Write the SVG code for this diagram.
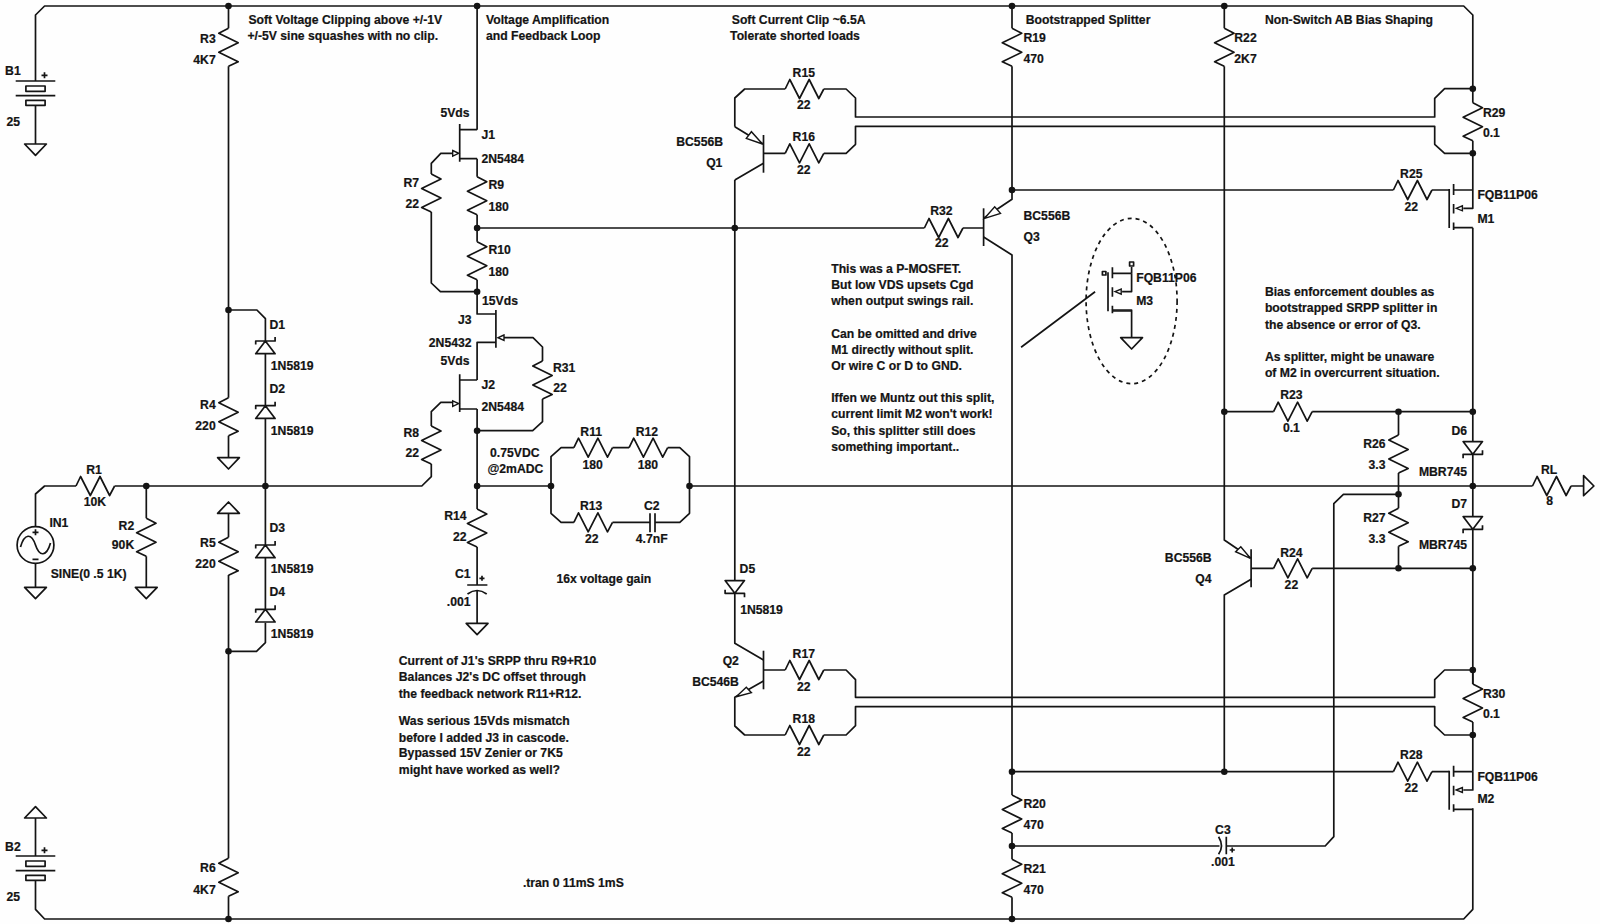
<svg xmlns="http://www.w3.org/2000/svg" width="1600" height="924" viewBox="0 0 1600 924">
<style>
.w{fill:none;stroke:#141414;stroke-width:1.7;stroke-linejoin:round}
.a{fill:#fff;stroke:#141414;stroke-width:1.4}
.d{fill:#141414;stroke:none}
.dash{fill:none;stroke:#141414;stroke-width:1.7;stroke-dasharray:4 4}
text{font-family:"Liberation Sans",Arial,sans-serif;font-size:12.2px;font-weight:bold;fill:#141414;stroke:#141414;stroke-width:.2}
.e{text-anchor:end}
.m{text-anchor:middle}
</style>
<defs>
<path id="rvL" class="w" d="M0 0L-9.7 5 9.7 14.5 -9.7 24 9.7 33.5 0 38"/>
<path id="rvR" class="w" d="M0 0L9.7 5 -9.7 14.5 9.7 24 -9.7 33.5 0 38"/>
<path id="rh" class="w" d="M0 0L4.6 -9.5 14.3 9.5 24 -9.5 33.6 9.5 38.6 0"/>
<path id="dA" class="w" d="M-9.7 -12.7H9.7L0 0ZM-9.7 -3.5V0H9.7V4"/>
<path id="dB" class="w" d="M-9.7 -12.7H9.7L0 0ZM-9.7 4V0H9.7V-4"/>
<path id="dC" class="w" d="M-9.7 12.7H9.7L0 0ZM-9.7 3.5V0H9.7V-4"/>
<path id="gd" class="w" d="M-10.9 0H10.9L0 11.3Z"/>
<path id="gu" class="w" d="M-10.9 0H10.9L0 -11.3Z"/>
<g id="bat"><path class="w" d="M-19.8 0H19.8M-19.8 14.7H19.8"/><rect class="w" x="-9.6" y="5" width="19.2" height="5.3"/><rect class="w" x="-9.6" y="19.3" width="19.2" height="5"/><path class="w" d="M6 -5.7H12M9 -8.7V-2.7"/></g>
<g id="mos"><path class="w" d="M-23.6 -1V38M-19.2 -6V5M-19.2 14V23.5M-19.2 32.5V40M-19.2 0H0M-19.2 37.7H0M-9.5 18.3H0V0"/><path class="a" d="M-16.6 18.3L-10.4 15.8V20.8Z"/></g>
<g id="jf"><path class="w" d="M0 -5.7V32M0 0H17.4M0 29H17.4"/><path class="a" d="M-7 20.8L-1 23.6 -7 26.4Z"/></g>
</defs>
<rect width="1600" height="924" fill="#fefefe"/>
<g id="connectors">
<path class="w" d="M35.5 81V15L44.6 6H1463.7L1472.8 15V102.7M35.5 880.3V909.3L44.6 919H1463.7L1472.8 909.3V808.3"/>
<path class="w" d="M228.5 6V28.3M228.5 66.3V397.7M228.5 435.7V457.7M228.5 310H256.9L265.4 318.7V341M265.4 354V405.7M265.4 419V545M265.4 558V609.3M265.4 622.7V642.7L256.5 651.3H228.5M228.5 513.3V537.3M228.5 575V858.3M228.5 896.3V919"/>
<path class="w" d="M35.5 105.3V144M35.5 818V856M35.5 526.7V494L44.6 486H76M114.6 486H421.8L431.3 476.7V464M431.3 426V411.7L440.8 402.3H452.7M146.3 486V518.3M146.3 556.3V587.3M35.5 563.3V587.3"/>
<path class="w" d="M477.1 6V129.7M477.1 158.7V176.7M477.1 214.7V241.7M477.1 279.7V314H495.9M495.9 342.3H477.1V380M477.1 409V509M477.1 547V585M477.1 591V623.3M477.1 228H924.4M963 228H983.6"/>
<path class="w" d="M477.1 291.7H440.4L431.3 283V212M431.3 174V163.3L440.8 153.3H452.7M504 337.7H533L542.5 347V361M542.5 399V421.7L532.7 430.7H477.1"/>
<path class="w" d="M477.1 486H551V456.7L561.1 447.7H573.9M612.5 447.7H629.1M667.7 447.7H679.8L689.5 456.7V513.3L679.8 522.3H655M650 522.3H612.5M573.9 522.3H561.1L551 513.3V486M689.5 486H1532.5M1571.1 486H1583.6"/>
<path class="w" d="M734.8 126.7V98L744.7 89H785.2M823.8 89H846.1L855.5 98V117H1434.7V98.3L1444.6 88.7H1472.8M763.5 153.3H785.2M823.8 153.3H846.1L855.5 144.3V126.3H1434.7V144.3L1444.6 153.3H1472.8M1472.8 140.7V190M734.8 180V580.7M734.8 593.3V643.3L763.5 660M763.5 670H785.2M823.8 670H846.1L855.5 679.7V697.3H1434.7V679.7L1444.6 670H1472.8V684M1472.8 722V771.7M763.5 681L734.8 697.3V726L744.7 735H785.2M823.8 735H846.1L855.5 725.7V706.7H1434.7V725.7L1444.6 735H1472.8"/>
<path class="w" d="M763.5 144.3L734.8 126.7M763.5 163.3L734.8 180M983.6 218.3L1012 199.3V66.3M1012 28.3V6M983.6 237L1012 255V795M1012 833V859.3M1012 897.3V919M1012 190H1393.4M1432 190H1449.2M1012 771.7H1393.4M1432 771.7H1449.2"/>
<path class="w" d="M1224.3 6V28.3M1224.3 66.3V540L1251.1 558.3M1251.1 579.3L1224.3 595V771.7M1251.1 568.3H1273.6M1312.2 568.3H1472.8M1224.3 411.7H1273.6M1312.2 411.7H1472.8M1398.5 411.7V435M1398.5 473V508.3M1398.5 546.3V568.3M1398.5 494.3H1343.4L1333.8 503.7V836.7L1325.2 846H1226.3M1219.5 846H1012"/>
<path class="w" d="M1472.8 227.7V441.7M1472.8 454.3V516M1472.8 529.3V684M1021.1 347.3L1095.1 291.7M1131.6 273.3V267M1112.4 310H1131.6V337.7"/>
</g>
<g id="junctions">
<circle class="d" cx="228.5" cy="6" r="3.3"/><circle class="d" cx="477.1" cy="6" r="3.3"/><circle class="d" cx="1012" cy="6" r="3.3"/><circle class="d" cx="1224.3" cy="6" r="3.3"/>
<circle class="d" cx="228.5" cy="310" r="3.3"/><circle class="d" cx="228.5" cy="651.3" r="3.3"/><circle class="d" cx="228.5" cy="919" r="3.3"/><circle class="d" cx="1012" cy="919" r="3.3"/>
<circle class="d" cx="146.3" cy="486" r="3.3"/><circle class="d" cx="265.4" cy="486" r="3.3"/><circle class="d" cx="477.1" cy="486" r="3.3"/><circle class="d" cx="551" cy="486" r="3.3"/><circle class="d" cx="689.5" cy="486" r="3.3"/><circle class="d" cx="1472.8" cy="486" r="3.3"/>
<circle class="d" cx="477.1" cy="228" r="3.3"/><circle class="d" cx="734.8" cy="228" r="3.3"/><circle class="d" cx="477.1" cy="291.7" r="3.3"/><circle class="d" cx="477.1" cy="430.7" r="3.3"/>
<circle class="d" cx="1012" cy="190" r="3.3"/><circle class="d" cx="1012" cy="771.7" r="3.3"/><circle class="d" cx="1012" cy="846" r="3.3"/><circle class="d" cx="1224.3" cy="771.7" r="3.3"/><circle class="d" cx="1224.3" cy="411.7" r="3.3"/>
<circle class="d" cx="1398.5" cy="411.7" r="3.3"/><circle class="d" cx="1472.8" cy="411.7" r="3.3"/><circle class="d" cx="1398.5" cy="494.3" r="3.3"/><circle class="d" cx="1398.5" cy="568.3" r="3.3"/><circle class="d" cx="1472.8" cy="568.3" r="3.3"/>
<circle class="d" cx="1472.8" cy="88.7" r="3.3"/><circle class="d" cx="1472.8" cy="153.3" r="3.3"/><circle class="d" cx="1472.8" cy="670" r="3.3"/><circle class="d" cx="1472.8" cy="735" r="3.3"/>
</g>
<g id="B1"><use href="#bat" x="35.5" y="81"/><use href="#gd" x="35.5" y="144"/><text x="5.1" y="75">B1</text><text x="6.6" y="126">25</text></g>
<g id="B2"><use href="#bat" x="35.5" y="856"/><use href="#gu" x="35.5" y="818"/><text x="5.1" y="850.7">B2</text><text x="6.6" y="901">25</text></g>
<g id="IN1"><circle class="w" cx="35.5" cy="545" r="18.4"/><path class="w" d="M20.5 547C24.5 533 31.5 533 35.5 545C39.5 557 46.5 557 50.5 543M32.5 532.3H38.5M35.5 529.3V535.3M32.5 559.3H38.5"/><use href="#gd" x="35.5" y="587.3"/><text x="49.4" y="527">IN1</text><text x="50.7" y="577.7">SINE(0 .5 1K)</text></g>
<g id="R1"><use href="#rh" x="76" y="486"/><text class="m" x="94" y="474">R1</text><text class="m" x="95" y="506">10K</text></g>
<g id="R2"><use href="#rvR" x="146.3" y="518.3"/><use href="#gd" x="146.3" y="587.3"/><text class="e" x="134.2" y="529.7">R2</text><text class="e" x="134.2" y="549.3">90K</text></g>
<g id="R3"><use href="#rvL" x="228.5" y="28.3"/><text class="e" x="215.7" y="42.5">R3</text><text class="e" x="215.7" y="63.5">4K7</text></g>
<g id="R4"><use href="#rvL" x="228.5" y="397.7"/><use href="#gd" x="228.5" y="457.7"/><text class="e" x="215.7" y="409">R4</text><text class="e" x="215.7" y="430">220</text></g>
<g id="R5"><use href="#rvL" x="228.5" y="537.3"/><use href="#gu" x="228.5" y="513.3"/><text class="e" x="215.7" y="547">R5</text><text class="e" x="215.7" y="568">220</text></g>
<g id="R6"><use href="#rvL" x="228.5" y="858.3"/><text class="e" x="215.7" y="872">R6</text><text class="e" x="215.7" y="894">4K7</text></g>
<g id="D1"><use href="#dC" x="265.4" y="341"/><text x="269.4" y="328.7">D1</text><text x="270.8" y="370">1N5819</text></g>
<g id="D2"><use href="#dC" x="265.4" y="405.7"/><text x="269.4" y="392.7">D2</text><text x="270.8" y="435">1N5819</text></g>
<g id="D3"><use href="#dC" x="265.4" y="545"/><text x="269.4" y="531.7">D3</text><text x="270.8" y="573">1N5819</text></g>
<g id="D4"><use href="#dC" x="265.4" y="609.3"/><text x="269.4" y="595.7">D4</text><text x="270.8" y="638">1N5819</text></g>
<g id="J1"><use href="#jf" x="459.7" y="129.7"/><text x="440.4" y="116.7">5Vds</text><text x="481.4" y="138.7">J1</text><text x="481.4" y="162.7">2N5484</text></g>
<g id="J2"><use href="#jf" x="459.7" y="380"/><text x="440.4" y="365.3">5Vds</text><text x="481.4" y="389">J2</text><text x="481.4" y="411.3">2N5484</text></g>
<g id="J3"><path class="w" d="M495.9 310V347.7"/><path class="a" d="M504 335L498 337.7 504 340.4Z"/><text x="482" y="305">15Vds</text><text class="e" x="471.5" y="324">J3</text><text class="e" x="471.5" y="346.7">2N5432</text></g>
<g id="R7"><use href="#rvR" x="431.3" y="174"/><text class="e" x="419.1" y="187.3">R7</text><text class="e" x="419.1" y="208.3">22</text></g>
<g id="R8"><use href="#rvR" x="431.3" y="426"/><text class="e" x="419.1" y="437.3">R8</text><text class="e" x="419.1" y="457.3">22</text></g>
<g id="R9"><use href="#rvR" x="477.1" y="176.7"/><text x="488.5" y="189.3">R9</text><text x="488.5" y="210.7">180</text></g>
<g id="R10"><use href="#rvR" x="477.1" y="241.7"/><text x="488.5" y="254.3">R10</text><text x="488.5" y="275.7">180</text></g>
<g id="R31"><use href="#rvL" x="542.5" y="361"/><text x="553" y="372.3">R31</text><text x="553.3" y="392.3">22</text></g>
<g id="R14"><use href="#rvR" x="477.1" y="509"/><text class="e" x="466.5" y="520">R14</text><text class="e" x="466.5" y="541">22</text></g>
<g id="C1"><path class="w" d="M467.2 585H487.4M467.5 594Q477.1 587 486.7 594M479.4 578.3H484.5M482 575.8V580.8"/><use href="#gd" x="477.1" y="623.3"/><text class="e" x="470.5" y="577.7">C1</text><text class="e" x="470.5" y="605.7">.001</text></g>
<g id="R11"><use href="#rh" x="573.9" y="447.7"/><text class="m" x="591.2" y="436">R11</text><text class="m" x="592.6" y="469">180</text></g>
<g id="R12"><use href="#rh" x="629.1" y="447.7"/><text class="m" x="646.9" y="436">R12</text><text class="m" x="647.9" y="469">180</text></g>
<g id="R13"><use href="#rh" x="573.9" y="522.3"/><text class="m" x="591.2" y="510.3">R13</text><text class="m" x="591.8" y="543.3">22</text></g>
<g id="C2"><path class="w" d="M650 513.3V532.3M655 513.3V532.3"/><text class="m" x="651.7" y="510.3">C2</text><text class="m" x="651.7" y="543.3">4.7nF</text></g>
<g id="Q1"><path class="w" d="M763.5 135V172.7"/><path class="a" d="M762.5 144L751.4 131.7 746.3 138.3Z"/><text class="e" x="723" y="146">BC556B</text><text class="e" x="722.4" y="167.3">Q1</text></g>
<g id="R15"><use href="#rh" x="785.2" y="89"/><text class="m" x="803.8" y="76.7">R15</text><text class="m" x="803.8" y="109.3">22</text></g>
<g id="R16"><use href="#rh" x="785.2" y="153.3"/><text class="m" x="803.8" y="141.3">R16</text><text class="m" x="803.8" y="174.3">22</text></g>
<g id="R32"><use href="#rh" x="924.4" y="228"/><text class="m" x="941.4" y="215.3">R32</text><text class="m" x="941.7" y="247.3">22</text></g>
<g id="Q3"><path class="w" d="M983.6 208.3V246"/><path class="a" d="M984.6 218.3L994.7 206.7 1000.5 213.3Z"/><text x="1023.5" y="220">BC556B</text><text x="1023.5" y="240.7">Q3</text></g>
<g id="R19"><use href="#rvR" x="1012" y="28.3"/><text x="1023.5" y="42.3">R19</text><text x="1023.5" y="63.3">470</text></g>
<g id="R20"><use href="#rvR" x="1012" y="795"/><text x="1023.5" y="807.7">R20</text><text x="1023.5" y="829">470</text></g>
<g id="R21"><use href="#rvR" x="1012" y="859.3"/><text x="1023.5" y="872.7">R21</text><text x="1023.5" y="894">470</text></g>
<g id="D5"><use href="#dA" x="734.8" y="593.3"/><text x="739.6" y="573">D5</text><text x="740.2" y="614.3">1N5819</text></g>
<g id="Q2"><path class="w" d="M763.5 650.7V689.3"/><path class="a" d="M736.2 696.7L746.3 687.3 751.4 692.7Z"/><text class="e" x="738.9" y="665">Q2</text><text class="e" x="738.9" y="686.3">BC546B</text></g>
<g id="R17"><use href="#rh" x="785.2" y="670"/><text class="m" x="803.8" y="657.7">R17</text><text class="m" x="803.8" y="691">22</text></g>
<g id="R18"><use href="#rh" x="785.2" y="735"/><text class="m" x="803.8" y="722.7">R18</text><text class="m" x="803.8" y="755.7">22</text></g>
<g id="R22"><use href="#rvR" x="1224.3" y="28.3"/><text x="1234.3" y="42.3">R22</text><text x="1234.3" y="63.3">2K7</text></g>
<g id="R23"><use href="#rh" x="1273.6" y="411.7"/><text class="m" x="1291.4" y="399.3">R23</text><text class="m" x="1291.4" y="432.3">0.1</text></g>
<g id="R24"><use href="#rh" x="1273.6" y="568.3"/><text class="m" x="1291.4" y="556.7">R24</text><text class="m" x="1291.4" y="589.3">22</text></g>
<g id="Q4"><path class="w" d="M1251.1 549.3V587.3"/><path class="a" d="M1250.4 558.3L1235.6 551.7 1240.8 546.7Z"/><text class="e" x="1211.6" y="561.7">BC556B</text><text class="e" x="1211.6" y="582.7">Q4</text></g>
<g id="R26"><use href="#rvL" x="1398.5" y="435"/><text class="e" x="1385.5" y="448">R26</text><text class="e" x="1385.5" y="469">3.3</text></g>
<g id="R27"><use href="#rvL" x="1398.5" y="508.3"/><text class="e" x="1385.5" y="522.3">R27</text><text class="e" x="1385.5" y="543.3">3.3</text></g>
<g id="D6"><use href="#dB" x="1472.8" y="454.3"/><text class="e" x="1467" y="435">D6</text><text class="e" x="1467" y="476">MBR745</text></g>
<g id="D7"><use href="#dB" x="1472.8" y="529.3"/><text class="e" x="1467" y="507.7">D7</text><text class="e" x="1467" y="549">MBR745</text></g>
<g id="RL"><use href="#rh" x="1532.5" y="486"/><path class="w" d="M1583.6 475.7V495.7L1593.9 486Z"/><text class="m" x="1549" y="474">RL</text><text class="m" x="1549.7" y="505">8</text></g>
<g id="R25"><use href="#rh" x="1393.4" y="190"/><text class="m" x="1411.3" y="177.7">R25</text><text class="m" x="1411.3" y="210.7">22</text></g>
<g id="R28"><use href="#rh" x="1393.4" y="771.7"/><text class="m" x="1411.3" y="759.3">R28</text><text class="m" x="1411.3" y="792.3">22</text></g>
<g id="R29"><use href="#rvR" x="1472.8" y="102.7"/><text x="1482.9" y="116.7">R29</text><text x="1482.9" y="136.7">0.1</text></g>
<g id="R30"><use href="#rvR" x="1472.8" y="684"/><text x="1482.9" y="697.7">R30</text><text x="1482.9" y="718.3">0.1</text></g>
<g id="M1"><use href="#mos" x="1472.8" y="190"/><text x="1477.4" y="199">FQB11P06</text><text x="1477.4" y="222.7">M1</text></g>
<g id="M2"><use href="#mos" x="1472.8" y="771.7"/><text x="1477.4" y="780.7">FQB11P06</text><text x="1477.4" y="803.3">M2</text></g>
<g id="M3"><ellipse class="dash" cx="1131.6" cy="301" rx="45.5" ry="82.7"/><use href="#mos" x="1131.6" y="273.3"/><rect class="w" x="1129.6" y="262" width="4" height="4"/><rect class="w" x="1102.4" y="271.5" width="3.5" height="3.5"/><use href="#gd" x="1131.6" y="337.7"/><text x="1136.2" y="282.3">FQB11P06</text><text x="1136.2" y="305">M3</text></g>
<g id="C3"><path class="w" d="M1226.3 836.7V854.3M1218.6 836.7Q1224.3 846 1218.6 854.3M1229.7 850H1234.8M1232.2 847.5V852.5"/><text class="m" x="1222.9" y="833.7">C3</text><text class="m" x="1222.9" y="865.7">.001</text></g>
<g id="notes">
<text x="248.4" y="24.3">Soft Voltage Clipping above +/-1V</text><text x="247.4" y="40">+/-5V sine squashes with no clip.</text>
<text x="486" y="24.3">Voltage Amplification</text><text x="486" y="40">and Feedback Loop</text>
<text x="731.8" y="24.3">Soft Current Clip ~6.5A</text><text x="730.1" y="40">Tolerate shorted loads</text>
<text x="1025.8" y="24.3">Bootstrapped Splitter</text>
<text x="1264.9" y="24.3">Non-Switch AB Bias Shaping</text>
<text x="490.1" y="457">0.75VDC</text><text x="487.4" y="473.3">@2mADC</text>
<text x="556.4" y="582.7">16x voltage gain</text>
<text x="398.8" y="665">Current of J1's SRPP thru R9+R10</text>
<text x="398.8" y="681.3">Balances J2's DC offset through</text>
<text x="398.8" y="697.7">the feedback network R11+R12.</text>
<text x="398.8" y="725.3">Was serious 15Vds mismatch</text>
<text x="398.8" y="741.7">before I added J3 in cascode.</text>
<text x="398.8" y="757.3">Bypassed 15V Zenier or 7K5</text>
<text x="398.8" y="773.7">might have worked as well?</text>
<text x="522.9" y="886.7">.tran 0 11mS 1mS</text>
<text x="831.2" y="273.3">This was a P-MOSFET.</text>
<text x="831.2" y="289">But low VDS upsets Cgd</text>
<text x="831.2" y="305.3">when output swings rail.</text>
<text x="831.2" y="338.3">Can be omitted and drive</text>
<text x="831.2" y="353.7">M1 directly without split.</text>
<text x="831.2" y="370.3">Or wire C or D to GND.</text>
<text x="831.2" y="402">Iffen we Muntz out this split,</text>
<text x="831.2" y="418.3">current limit M2 won't work!</text>
<text x="831.2" y="435">So, this splitter still does</text>
<text x="831.2" y="450.7">something important..</text>
<text x="1264.9" y="296">Bias enforcement doubles as</text>
<text x="1264.9" y="312.3">bootstrapped SRPP splitter in</text>
<text x="1264.9" y="329">the absence or error of Q3.</text>
<text x="1264.9" y="361">As splitter, might be unaware</text>
<text x="1264.9" y="377.3">of M2 in overcurrent situation.</text>
</g>
</svg>
